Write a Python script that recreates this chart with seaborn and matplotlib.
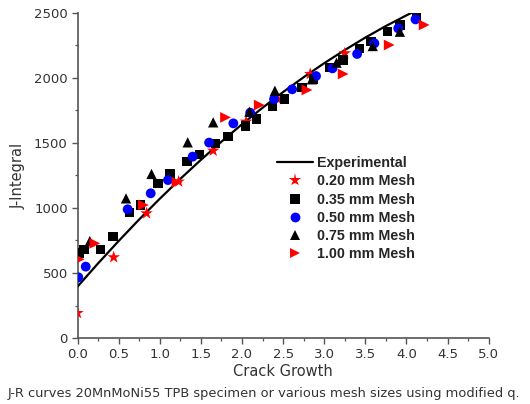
import numpy as np
import pandas as pd
import matplotlib
matplotlib.use("Agg")
import matplotlib.pyplot as plt
import seaborn as sns
from matplotlib.ticker import MultipleLocator
from matplotlib.lines import Line2D

# ---- data ----
exp_x = [0.0, 0.25, 0.5, 0.75, 1.0, 1.25, 1.5, 1.75, 2.0, 2.25, 2.5, 2.75,
         3.0, 3.25, 3.5, 3.75, 4.0, 4.1]
exp_j = [395, 574, 746, 912, 1071, 1224, 1370, 1510, 1644, 1771, 1892, 2006,
         2114, 2215, 2311, 2400, 2482, 2513]

m020_x = [0.0, 0.44, 0.84, 1.23, 1.65, 2.05, 2.44, 2.83, 3.25]
m020_j = [192, 621, 959, 1203, 1441, 1664, 1836, 2031, 2190]

m035_x = [0.02, 0.08, 0.28, 0.43, 0.63, 0.77, 0.98, 1.125, 1.33, 1.48, 1.68,
          1.83, 2.04, 2.18, 2.375, 2.52, 2.73, 2.87, 3.07, 3.23, 3.43, 3.57,
          3.77, 3.92, 4.12]
m035_j = [654, 680, 682, 779, 964, 1023, 1190, 1262, 1356, 1413, 1497, 1549,
          1631, 1685, 1779, 1838, 1928, 1992, 2082, 2138, 2228, 2279, 2356,
          2408, 2477]

m050_x = [0.01, 0.10, 0.61, 0.89, 1.10, 1.40, 1.60, 1.895, 2.10, 2.39, 2.61,
          2.90, 3.10, 3.40, 3.61, 3.90, 4.11]
m050_j = [467, 549, 990, 1113, 1215, 1395, 1503, 1651, 1733, 1838, 1913, 2015,
          2074, 2185, 2267, 2382, 2451]

m075_x = [0.15, 0.59, 0.90, 1.34, 1.65, 2.09, 2.40, 2.85, 3.15, 3.59, 3.92]
m075_j = [746, 1074, 1262, 1505, 1659, 1741, 1902, 1990, 2118, 2246, 2356]

m100_x = [0.02, 0.21, 0.80, 1.21, 1.80, 2.21, 2.79, 3.23, 3.79, 4.215]
m100_j = [605, 728, 1023, 1198, 1697, 1792, 1908, 2031, 2254, 2408]

series_labels = ["0.20 mm Mesh", "0.35 mm Mesh", "0.50 mm Mesh",
                 "0.75 mm Mesh", "1.00 mm Mesh"]
x_ticks = [0.0, 0.5, 1.0, 1.5, 2.0, 2.5, 3.0, 3.5, 4.0, 4.5, 5.0]
y_ticks = [0, 500, 1000, 1500, 2000, 2500]
caption = "J-R curves 20MnMoNi55 TPB specimen or various mesh sizes using modified q."

# ---- styling ----
sns.set_style("ticks")
plt.rcParams["font.family"] = ["DejaVu Sans"]

markers = ["*", "s", "o", "^", ">"]
colors = ["#ff0000", "#000000", "#0000ff", "#000000", "#ff0000"]
sizes = [90, 45, 50, 55, 60]

fig = plt.figure(figsize=(5.30, 4.04), dpi=100)
ax = fig.add_axes([77.5 / 530, 1 - 338 / 404, (488.7 - 77.5) / 530, (338 - 13) / 404])

exp_df = pd.DataFrame({"x": exp_x, "j": exp_j})
sns.lineplot(data=exp_df, x="x", y="j", ax=ax, color="black", linewidth=1.6,
             zorder=3, legend=False)

xs = [m020_x, m035_x, m050_x, m075_x, m100_x]
js = [m020_j, m035_j, m050_j, m075_j, m100_j]
frames = []
for lab, xv, jv in zip(series_labels, xs, js):
    frames.append(pd.DataFrame({"x": xv, "j": jv, "mesh": lab}))
pts = pd.concat(frames, ignore_index=True)

for lab, mk, c, s in zip(series_labels, markers, colors, sizes):
    sub = pts[pts["mesh"] == lab]
    sns.scatterplot(data=sub, x="x", y="j", ax=ax, marker=mk, color=c, s=s,
                    edgecolor="none", linewidth=0, zorder=4, legend=False,
                    clip_on=True)

ax.set_xlim(0, 5)
ax.set_ylim(0, 2500)
ax.set_xticks(x_ticks)
ax.set_xticklabels([f"{v:.1f}" for v in x_ticks])
ax.set_yticks(y_ticks)
ax.set_yticklabels([str(v) for v in y_ticks])
ax.xaxis.set_minor_locator(MultipleLocator(0.25))
ax.yaxis.set_minor_locator(MultipleLocator(250))

spine_c = "#555555"
for side in ["top", "right"]:
    ax.spines[side].set_visible(False)
for side in ["left", "bottom"]:
    ax.spines[side].set_color(spine_c)
    ax.spines[side].set_linewidth(1.2)
ax.tick_params(which="major", direction="out", length=4, width=1.0,
               color=spine_c, labelsize=9.5, labelcolor="#333333", pad=3)
ax.tick_params(which="minor", direction="out", length=2.5, width=0.9,
               color=spine_c)

ax.set_xlabel("Crack Growth", fontsize=10.5, color="#333333", labelpad=2)
ax.set_ylabel("J-Integral", fontsize=10.5, color="#333333", labelpad=6)

# legend
handles = [Line2D([], [], color="black", linewidth=1.6)]
for mk, c, s in zip(markers, colors, sizes):
    handles.append(Line2D([], [], linestyle="none", marker=mk, color=c,
                          markersize=np.sqrt(s), markeredgewidth=0))
labels = ["Experimental"] + series_labels
leg = ax.legend(handles, labels, loc="upper left",
                bbox_to_anchor=(277 / 530, 1 - 156 / 404),
                bbox_transform=fig.transFigure, frameon=False,
                borderpad=0, borderaxespad=0, handlelength=2.5,
                handletextpad=0.3, labelspacing=0.3,
                prop={"family": "Liberation Sans", "weight": "bold", "size": 10.3})

fig.text(8 / 530, 1 - 393 / 404, caption, fontsize=9.35, color="#333333",
         ha="left", va="center")

fig.savefig("out.png", dpi=100)
